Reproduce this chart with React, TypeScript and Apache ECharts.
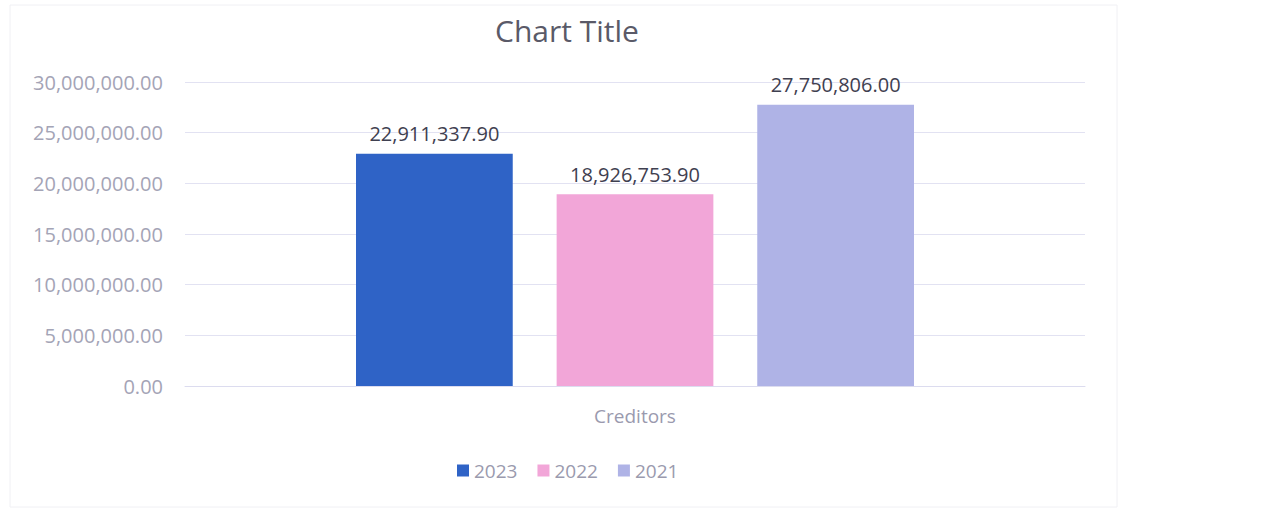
import React, { useEffect, useRef } from "react";
import * as echarts from "echarts";

const categories = ["Creditors"];
const seriesNames = ["2023", "2022", "2021"];
const values2023 = [22911337.9];
const values2022 = [18926753.9];
const values2021 = [27750806.0];
const colors = ["#2f63c6", "#f2a6d8", "#afb3e6"];

const fmt = (v: number) =>
  v.toLocaleString("en-US", { minimumFractionDigits: 2, maximumFractionDigits: 2 });

export default function App() {
  const ref = useRef<HTMLDivElement>(null);
  useEffect(() => {
    if (!ref.current) return;
    const chart = echarts.init(ref.current, undefined, { renderer: "svg" });
    const font = "'Open Sans', 'Noto Sans', sans-serif";
    const data = [values2023, values2022, values2021];
    chart.setOption({
      animation: false,
      backgroundColor: "#ffffff",
      textStyle: { fontFamily: font },
      title: {
        text: "Chart Title",
        left: 562,
        top: 10,
        textAlign: "center",
        textStyle: { fontFamily: font, fontSize: 30, fontWeight: "normal", color: "#5a5a68" },
      },
      legend: {
        data: seriesNames,
        left: 452,
        top: 456,
        itemWidth: 12,
        itemHeight: 12,
        itemGap: 20,
        icon: "rect",
        textStyle: { fontFamily: font, fontSize: 19, color: "#9a9aae" },
        selectedMode: false,
      },
      grid: { left: 185, right: 176, top: 82, bottom: 131 },
      xAxis: {
        type: "category",
        data: categories,
        axisLine: { show: true, lineStyle: { color: "#dcdcef" } },
        axisTick: { show: false },
        axisLabel: { fontFamily: font, fontSize: 19, color: "#9a9aae", margin: 20 },
      },
      yAxis: {
        type: "value",
        min: 0,
        max: 30000000,
        interval: 5000000,
        axisLine: { show: false },
        axisTick: { show: false },
        splitLine: { lineStyle: { color: "#e2e2f2" } },
        axisLabel: {
          fontFamily: font,
          fontSize: 20,
          color: "#a4a4b6",
          margin: 22,
          formatter: (v: number) => fmt(v),
        },
      },
      series: seriesNames.map((name, i) => ({
        name,
        type: "bar",
        data: data[i],
        barGap: "28%",
        barCategoryGap: "38%",
        itemStyle: { color: colors[i] },
        label: {
          show: true,
          position: "top",
          distance: 10,
          fontFamily: font,
          fontSize: 20,
          color: "#3f4050",
          formatter: (p: any) => fmt(p.value),
        },
      })),
      graphic: [
        {
          type: "rect",
          shape: { x: 10, y: 5, width: 1107, height: 502 },
          style: { fill: "none", stroke: "#f0f0f4", lineWidth: 1 },
          silent: true,
          z: -1,
        },
      ],
    });
    return () => chart.dispose();
  }, []);
  return (
    <div
      ref={ref}
      style={{ position: "fixed", left: 0, top: 0, width: 1261, height: 517 }}
    />
  );
}
